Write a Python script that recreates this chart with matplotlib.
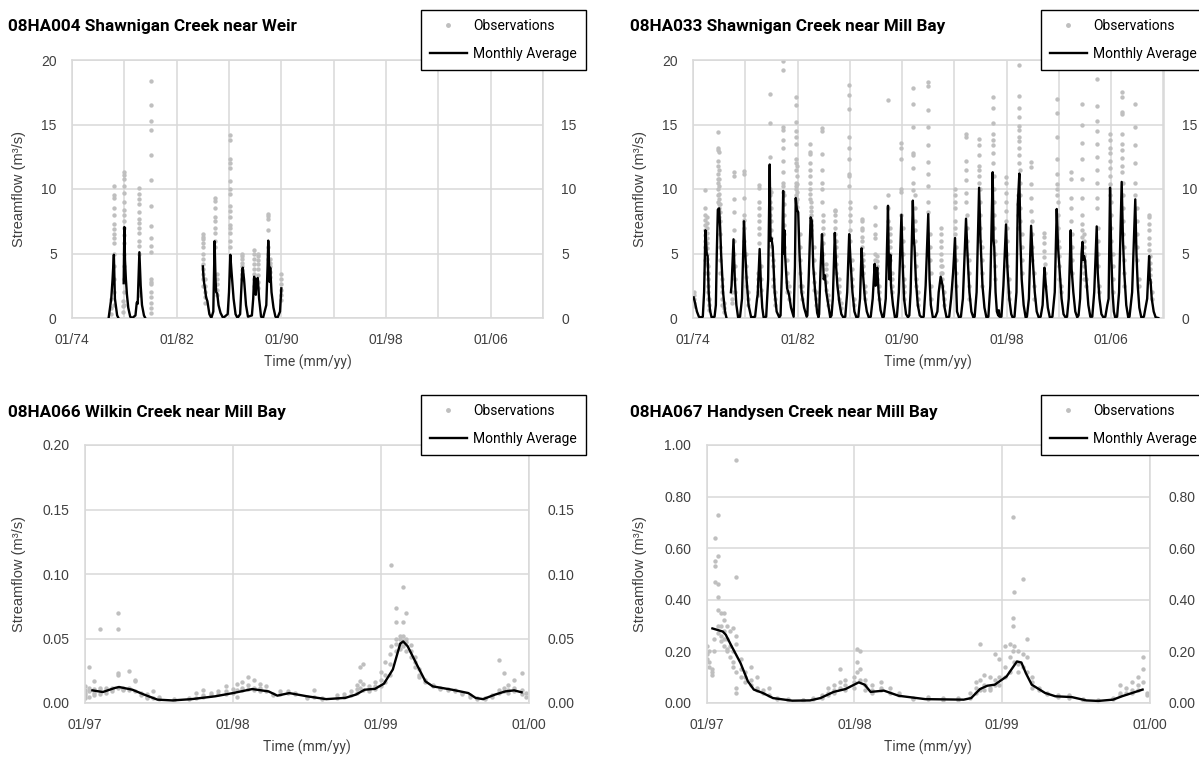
import matplotlib
matplotlib.use("Agg")
import numpy as np
import matplotlib.pyplot as plt
from matplotlib.lines import Line2D
from matplotlib.ticker import FixedLocator, FuncFormatter

W, H = 1199, 758
NARROW = ['Roboto', 'DejaVu Sans']
ARIAL = ['Liberation Sans', 'DejaVu Sans']
GRID = '#d9d9d9'
DOT = '#bfbfbf'

titles = ['08HA004 Shawnigan Creek near Weir', '08HA033 Shawnigan Creek near Mill Bay',
          '08HA066 Wilkin Creek near Mill Bay', '08HA067 Handysen Creek near Mill Bay']

# ---- 08HA004: monthly average (decimal year, m3/s), nan = gap
avg1_t = [1976.8, 1977.0, 1977.1, 1977.2, 1977.28, 1977.45, 1977.55, np.nan,
          1977.95, 1978.0, 1978.05, 1978.12, 1978.2, 1978.3, 1978.45, 1978.6, 1978.85, 1978.95,
          1979.02, 1979.15, 1979.25, 1979.35, 1979.5, 1979.6, np.nan,
          1984.0, 1984.05, 1984.1, 1984.15, 1984.25, 1984.35, 1984.5, 1984.65, 1984.8, 1984.9,
          1984.97, 1985.02, 1985.1, 1985.2, 1985.35, 1985.55, 1985.9, 1986.0, 1986.1, 1986.2,
          1986.35, 1986.5, 1986.65, 1986.85, 1987.0, 1987.05, 1987.15, 1987.3, 1987.45, 1987.75,
          1987.85, 1987.92, 1987.97, 1988.05, 1988.1, 1988.2, 1988.3, 1988.45, 1988.6, 1988.85,
          1988.95, 1989.0, 1989.05, 1989.1, 1989.15, 1989.25, 1989.4, 1989.55, 1989.7, 1989.9, 1990.0]
avg1_q = [0.0, 1.5, 3.0, 4.9, 1.5, 0.2, 0.0, np.nan,
          2.7, 7.05, 4.5, 3.0, 1.8, 0.8, 0.1, 0.0, 0.2, 1.2,
          1.1, 5.1, 2.5, 1.0, 0.2, 0.0, np.nan,
          4.0, 3.2, 2.7, 2.4, 1.6, 1.3, 0.3, 0.0, 0.5, 5.95,
          3.0, 2.0, 1.9, 1.0, 0.4, 0.0, 0.3, 2.0, 4.9, 3.5,
          1.5, 0.3, 0.0, 0.3, 3.5, 3.9, 3.0, 1.0, 0.1, 0.2,
          1.5, 3.2, 3.0, 1.8, 3.0, 3.1, 1.5, 0.1, 0.0, 1.0,
          4.0, 6.0, 4.5, 2.8, 3.9, 2.0, 0.8, 0.1, 0.0, 0.5, 2.3]
obs1 = [(1976.95, [1.5, 0.8, 0.3]),
        (1977.2, [10.2, 9.5, 9.3, 8.5, 8.0, 7.3, 6.9, 6.5, 6.2, 5.8, 5.0, 4.0, 3.0, 2.0, 1.0]),
        (1977.9, [1.3, 0.9, 0.5]),
        (1978.0, [11.3, 11.1, 10.8, 10.2, 9.7, 9.0, 8.4, 8.0, 7.5, 7.0, 6.4, 5.8, 5.0, 4.0, 3.0, 2.0, 1.0]),
        (1979.15, [10.1, 9.6, 9.2, 8.8, 8.2, 7.7, 7.4, 7.0, 6.6, 6.0, 5.6, 5.0, 2.0, 1.8]),
        (1980.0, [18.4, 16.5, 15.3, 14.6, 12.6, 10.7, 8.7, 7.1, 6.2, 5.6, 5.1, 3.0, 2.8, 2.6, 2.0,
                  1.6, 1.2, 0.8, 0.4]),
        (1984.0, [6.5, 6.3, 6.1, 5.8, 5.5, 5.0, 4.6, 4.2, 3.8, 3.4, 3.0, 2.5]),
        (1984.15, [3.0, 2.5, 2.0, 1.6, 1.2]),
        (1984.9, [9.3, 9.1, 8.5, 7.8, 7.5, 7.0, 6.6, 6.0, 5.5]),
        (1985.1, [3.4, 3.0, 2.6, 2.2, 1.8]),
        (1986.05, [14.2, 13.8, 12.3, 12.0, 11.6, 10.6, 10.0, 9.6, 8.7, 8.3, 7.8, 7.2, 7.0, 6.6, 6.0, 5.5]),
        (1987.0, [5.0, 4.8, 4.6, 4.3, 4.0, 3.7, 3.4, 3.0]),
        (1987.9, [5.3, 5.0, 4.6, 4.2, 3.8, 3.4, 3.0, 2.5]),
        (1988.2, [5.0, 4.8, 4.5, 4.2, 3.8, 3.3, 2.8, 2.3]),
        (1989.0, [8.1, 7.9, 7.7, 6.8, 5.5, 5.0, 4.6]),
        (1989.15, [4.6, 4.3, 4.0, 3.6, 3.2]),
        (1990.0, [3.4, 3.0, 2.6, 2.2, 1.8, 1.4])]

# ---- 08HA033: monthly average
avg2_t = [1974.05, 1974.15, 1974.3, 1974.45, 1974.6,
          1974.75, 1974.85, 1974.95, 1975.05, 1975.12, 1975.2, 1975.3, 1975.42,
          1975.65, 1975.75, 1975.82, 1975.9, 1976.0, 1976.08, 1976.15, 1976.3, 1976.45, 1976.55, np.nan,
          1976.9, 1976.95, 1977.1, 1977.2, 1977.32, 1977.45,
          1977.6, 1977.75, 1977.9, 1978.0, 1978.1, 1978.25, 1978.45,
          1978.75, 1978.9, 1978.95, 1979.1, 1979.2, 1979.3, 1979.4,
          1979.6, 1979.75, 1979.87, 1979.93, 1980.0, 1980.1, 1980.25, 1980.4, 1980.6,
          1980.7, 1980.8, 1980.9, 1980.95, 1981.0, 1981.05, 1981.2, 1981.35, 1981.5, 1981.7,
          1981.8, 1981.86, 1981.95, 1982.05, 1982.15, 1982.3, 1982.5, 1982.7,
          1982.75, 1982.85, 1983.0, 1983.1, 1983.2, 1983.35, 1983.5, 1983.6,
          1983.65, 1983.75, 1983.87, 1983.95, 1984.0, 1984.1, 1984.2, 1984.35, 1984.5,
          1984.6, 1984.7, 1984.85, 1984.95, 1985.05, 1985.2, 1985.35, 1985.5,
          1985.65, 1985.8, 1985.95, 1986.05, 1986.2, 1986.35, 1986.5,
          1986.65, 1986.78, 1986.9, 1987.0, 1987.15, 1987.3, 1987.45,
          1987.6, 1987.75, 1987.9, 1987.97, 1988.05, 1988.1, 1988.2, 1988.35, 1988.5,
          1988.6, 1988.75, 1988.92, 1988.97, 1989.02, 1989.1, 1989.15, 1989.3, 1989.45,
          1989.6, 1989.75, 1989.95, 1990.05, 1990.15, 1990.3, 1990.45,
          1990.55, 1990.65, 1990.82, 1990.9, 1990.95, 1991.05, 1991.2, 1991.35, 1991.5,
          1991.65, 1991.8, 1992.0, 1992.1, 1992.2, 1992.35,
          1992.55, 1992.7, 1992.8, 1992.95, 1993.1, 1993.25, 1993.4,
          1993.6, 1993.75, 1993.9, 1994.05, 1994.12, 1994.2, 1994.35,
          1994.5, 1994.65, 1994.89, 1995.0, 1995.15, 1995.3, 1995.45,
          1995.55, 1995.7, 1995.89, 1996.0, 1996.15, 1996.3, 1996.45,
          1996.6, 1996.75, 1996.93, 1997.0, 1997.05, 1997.15, 1997.25, 1997.35, 1997.4, 1997.45,
          1997.6, 1997.75, 1997.95, 1998.05, 1998.2, 1998.35, 1998.45,
          1998.6, 1998.75, 1998.85, 1998.97, 1999.05, 1999.15, 1999.3, 1999.45,
          1999.55, 1999.7, 1999.87, 2000.0, 2000.15, 2000.3, 2000.45,
          2000.6, 2000.75, 2000.89, 2001.0, 2001.15, 2001.3,
          2001.5, 2001.68, 2001.83, 2001.93, 2002.03, 2002.2, 2002.35, 2002.5,
          2002.62, 2002.75, 2002.9, 2002.97, 2003.1, 2003.25, 2003.4,
          2003.5, 2003.62, 2003.73, 2003.8, 2003.85, 2003.92, 2004.0, 2004.1, 2004.25, 2004.4,
          2004.55, 2004.7, 2004.89, 2004.97, 2005.1, 2005.25, 2005.4,
          2005.55, 2005.7, 2005.8, 2005.91, 2006.0, 2006.1, 2006.2, 2006.3,
          2006.45, 2006.6, 2006.8, 2006.9, 2007.0, 2007.15, 2007.3,
          2007.4, 2007.6, 2007.84, 2007.93, 2008.03, 2008.15, 2008.3,
          2008.5, 2008.75, 2008.9, 2008.95, 2009.0, 2009.1, 2009.25, 2009.4, 2009.6]
avg2_q = [1.6, 1.2, 0.5, 0.1, 0.05,
          0.1, 2.0, 6.8, 5.0, 4.8, 2.0, 0.6, 0.05,
          0.1, 1.0, 5.0, 8.4, 8.5, 7.0, 5.0, 2.0, 0.5, 0.05, np.nan,
          2.0, 2.5, 6.1, 3.0, 1.0, 0.05,
          0.1, 1.5, 7.5, 5.0, 3.0, 1.0, 0.05,
          0.1, 1.5, 1.8, 5.35, 2.5, 0.8, 0.05,
          0.1, 3.0, 11.9, 6.0, 6.2, 5.5, 2.0, 0.5, 0.05,
          0.2, 3.5, 9.85, 5.0, 6.8, 4.8, 2.3, 1.8, 0.8, 0.1,
          4.0, 9.3, 8.4, 8.2, 5.0, 2.0, 0.8, 0.1,
          0.2, 3.0, 7.8, 7.5, 4.0, 2.0, 0.4, 0.05,
          0.3, 3.5, 6.5, 4.5, 3.0, 3.3, 2.0, 1.0, 0.05,
          0.2, 1.5, 6.6, 4.0, 2.5, 1.2, 0.3, 0.05,
          0.1, 2.0, 6.5, 4.5, 2.0, 0.5, 0.05,
          0.1, 1.5, 5.4, 3.5, 1.5, 0.5, 0.05,
          0.1, 1.5, 4.2, 2.5, 3.5, 3.9, 2.0, 0.6, 0.05,
          0.1, 1.5, 8.7, 5.0, 3.0, 4.9, 2.5, 1.0, 0.05,
          0.1, 2.0, 8.0, 4.0, 1.5, 0.3, 0.05,
          0.2, 2.0, 9.1, 6.0, 5.5, 3.0, 1.0, 0.2, 0.05,
          0.1, 2.5, 8.05, 3.0, 1.0, 0.05,
          0.1, 0.5, 2.0, 3.2, 2.5, 0.8, 0.05,
          0.1, 1.5, 3.5, 6.2, 3.0, 0.5, 0.05,
          0.1, 1.5, 7.7, 5.0, 2.0, 0.5, 0.05,
          0.1, 2.0, 10.1, 6.0, 2.5, 0.8, 0.05,
          0.1, 2.5, 11.3, 6.0, 5.5, 2.0, 0.5, 0.2, 0.6, 0.1,
          0.1, 2.5, 7.25, 4.0, 1.5, 0.3, 0.05,
          0.1, 2.0, 8.8, 11.2, 6.0, 3.0, 1.0, 0.05,
          0.1, 1.5, 7.15, 4.5, 2.0, 0.5, 0.05,
          0.1, 1.0, 3.9, 2.5, 0.8, 0.05,
          0.1, 2.0, 8.45, 5.5, 4.0, 1.5, 0.3, 0.05,
          0.1, 1.5, 6.8, 3.8, 2.0, 0.5, 0.05,
          0.2, 1.5, 5.0, 5.9, 4.5, 4.8, 4.5, 3.0, 1.0, 0.1,
          0.1, 2.0, 7.1, 3.5, 1.5, 0.3, 0.05,
          0.1, 1.0, 1.5, 10.1, 5.0, 2.0, 0.5, 0.05,
          0.1, 2.0, 10.55, 6.0, 3.5, 1.0, 0.05,
          0.1, 2.0, 9.2, 5.0, 2.5, 0.8, 0.05,
          0.1, 1.5, 4.8, 3.0, 3.0, 1.5, 0.5, 0.05, 0.0]
obs2 = [(1974.05, [2.0, 1.8, 1.5, 1.2, 0.9]),
        (1974.95, [9.9, 8.5, 8.0, 7.6, 7.2, 6.8, 6.4, 6.0]),
        (1975.05, [7.8, 7.4, 7.0, 6.6, 6.2, 5.8, 5.4, 5.0, 4.6, 4.2]),
        (1975.15, [4.0, 3.5, 3.0, 2.5, 2.0, 1.5]),
        (1975.9, [14.4, 13.2, 13.0, 12.2, 11.8, 11.2, 10.8, 10.5, 10.0, 9.5, 9.0]),
        (1975.98, [12.9, 11.5, 10.8, 10.2, 9.6, 9.2, 8.8, 8.5, 8.2, 7.8]),
        (1976.1, [8.8, 8.2, 7.5, 6.5, 5.5, 4.5, 3.5]),
        (1976.25, [3.0, 2.5, 2.0, 1.5, 1.0]),
        (1976.95, [2.0, 1.5, 1.2]),
        (1977.1, [11.3, 11.0, 9.2, 8.2, 6.8, 6.0, 5.0]),
        (1977.9, [11.4, 11.2, 9.3, 8.0, 7.6, 7.0, 6.0]),
        (1978.05, [5.0, 4.0, 3.2, 2.5]),
        (1978.95, [3.5, 3.0, 2.5, 2.0, 1.8]),
        (1979.05, [10.3, 10.1, 9.0, 8.5, 8.0, 7.5, 7.0, 6.5, 5.8]),
        (1979.87, [17.4, 15.1, 12.5, 10.0, 9.5, 9.0, 8.0]),
        (1980.0, [9.8, 8.5, 7.5, 6.8, 6.2, 5.6, 5.0]),
        (1980.15, [4.5, 4.0, 3.0, 2.5]),
        (1980.88, [19.9, 19.2, 14.8, 14.6, 13.8, 13.2, 12.2, 11.3, 10.5, 10.2, 9.8]),
        (1981.0, [9.5, 8.8, 8.0, 7.2, 6.5, 5.5]),
        (1981.2, [4.5, 3.5, 2.8, 2.0]),
        (1981.86, [17.1, 16.5, 15.2, 14.5, 14.0, 13.5, 12.3, 12.0, 11.5, 10.5, 10.2, 10.0, 9.5, 9.0]),
        (1981.95, [11.8, 11.0, 10.4, 9.8, 9.2, 8.6]),
        (1982.15, [6.5, 5.5, 4.5, 3.5, 2.5]),
        (1982.95, [13.5, 12.9, 12.7, 12.0, 11.5, 11.0, 10.5, 10.0, 9.6, 9.2]),
        (1983.05, [9.0, 8.6, 8.3, 8.0, 7.6, 7.2, 6.8]),
        (1983.25, [5.5, 4.5, 3.5, 2.8, 2.2]),
        (1983.85, [14.7, 14.5, 12.7, 11.5, 10.5, 10.0, 9.0]),
        (1983.95, [8.0, 7.5, 7.0, 6.5, 5.8, 5.0]),
        (1984.15, [4.2, 3.8, 3.3, 2.8, 2.2]),
        (1984.85, [8.4, 8.3, 8.0, 7.5, 7.0, 6.5]),
        (1984.95, [6.0, 5.5, 4.8, 4.2, 3.5]),
        (1985.15, [3.0, 2.5, 2.0, 1.5]),
        (1985.93, [18.1, 17.3, 16.2, 14.0, 13.2, 12.3, 11.2, 11.0, 10.2]),
        (1986.02, [9.0, 8.5, 8.0, 7.5, 6.8, 6.0]),
        (1986.15, [4.5, 3.8, 3.0, 2.5]),
        (1986.9, [7.7, 7.5, 7.0, 6.8, 6.3, 6.0, 5.5]),
        (1987.0, [5.0, 4.5, 4.0, 3.5]),
        (1987.9, [8.6, 7.2, 6.5, 6.2, 5.0, 4.5]),
        (1988.05, [4.8, 4.4, 4.0, 3.5, 3.0]),
        (1988.92, [16.9, 9.5, 8.5, 7.5]),
        (1989.05, [7.0, 6.5, 6.0, 5.5, 5.0, 4.5]),
        (1989.95, [13.6, 13.2, 12.3, 10.0, 9.8, 8.0]),
        (1990.05, [7.0, 6.0, 5.0, 4.0]),
        (1990.82, [17.8, 16.6, 14.8, 12.8, 12.6, 11.6, 10.5, 9.9]),
        (1990.95, [9.5, 8.5, 7.5, 6.8, 6.0]),
        (1992.0, [18.3, 18.0, 16.1, 14.8, 13.4, 12.1, 11.2, 10.2, 9.0, 8.2]),
        (1992.1, [6.5, 5.5, 4.5]),
        (1992.95, [6.95, 6.5, 6.0, 5.5, 5.0, 4.5, 4.0, 3.5]),
        (1993.05, [4.0, 3.5, 3.0, 2.5]),
        (1994.05, [10.0, 9.5, 9.0, 8.5, 7.5, 7.0, 6.5]),
        (1994.88, [14.3, 14.0, 12.2, 11.5, 10.7, 9.7, 9.0]),
        (1995.0, [8.0, 7.0, 6.0, 5.0]),
        (1995.88, [13.9, 13.4, 12.6, 11.8, 11.5, 11.0, 10.5]),
        (1995.98, [10.0, 9.0, 8.0, 7.0, 6.0]),
        (1996.93, [17.1, 16.3, 15.1, 14.3, 13.8, 13.4, 12.8, 12.0]),
        (1997.02, [11.0, 10.0, 9.0, 8.0, 7.0]),
        (1997.95, [10.9, 10.5, 9.7, 9.0, 8.3, 7.5]),
        (1998.97, [19.6, 17.2, 16.3, 15.6, 14.9, 14.6, 14.0, 13.7, 13.2, 12.6, 12.0]),
        (1999.05, [11.5, 10.5, 9.5, 8.5, 7.5]),
        (1999.87, [12.1, 11.7, 10.4, 9.3, 8.3]),
        (2000.88, [6.6, 6.3, 5.8, 5.2, 4.7]),
        (2001.83, [17.0, 15.9, 14.0, 12.3, 11.2, 10.4, 10.0, 9.5]),
        (2001.93, [9.0, 8.0, 7.0, 6.0]),
        (2002.9, [11.3, 10.8, 9.3, 8.5, 7.5]),
        (2003.8, [16.6, 15.0, 13.6, 12.3, 10.8, 9.3, 8.0, 7.3, 6.8, 6.3]),
        (2003.9, [6.5, 6.0, 5.5, 5.0]),
        (2004.89, [18.5, 16.4, 15.3, 14.5, 13.5, 12.5, 11.5, 10.5, 9.3, 8.5]),
        (2005.91, [14.3, 13.8, 13.2, 12.8, 12.2, 11.6, 11.0, 10.4, 9.5]),
        (2006.0, [9.0, 8.0, 7.0, 6.0]),
        (2006.8, [17.5, 17.1, 16.0, 15.8, 14.3, 13.5, 13.0, 12.4, 11.8, 11.3]),
        (2006.9, [10.5, 9.5, 8.5, 7.5, 6.5]),
        (2007.84, [16.6, 14.8, 13.4, 12.0, 10.5, 9.5]),
        (2008.9, [8.0, 7.8, 7.3, 6.8, 6.2, 5.7, 5.3]),
        # lower observations on the recession limbs
        (1974.9, [5.5, 4.5, 3.5]), (1975.25, [1.5, 1.0, 0.6]), (1976.4, [1.2, 0.8, 0.5]),
        (1977.2, [4.0, 3.0, 2.0]), (1978.2, [2.0, 1.5, 1.0]), (1979.2, [4.0, 3.0, 2.2]),
        (1980.3, [2.0, 1.5, 1.0]), (1981.35, [2.5, 2.0, 1.5]), (1982.35, [2.5, 2.0, 1.5]),
        (1983.4, [2.0, 1.5, 1.0]), (1984.3, [1.8, 1.4, 1.0]), (1985.3, [1.2, 0.8]),
        (1986.3, [1.5, 1.0]), (1987.15, [2.5, 2.0, 1.5]), (1988.2, [2.5, 2.0, 1.5]),
        (1989.2, [3.5, 3.0, 2.5, 2.0]), (1990.15, [3.0, 2.5, 2.0, 1.5]),
        (1991.05, [5.0, 4.0, 3.0, 2.5]), (1991.2, [2.0, 1.5, 1.0]), (1992.2, [3.5, 2.5, 1.5]),
        (1993.2, [2.0, 1.5, 1.0]), (1994.15, [5.5, 4.5, 3.5, 2.5]), (1995.12, [4.5, 3.5, 2.5, 1.5]),
        (1996.1, [5.5, 4.5, 3.5, 2.5]), (1997.12, [6.0, 5.0, 4.0, 3.0]),
        (1998.05, [7.0, 6.0, 5.0, 4.0]), (1998.2, [3.0, 2.0, 1.5]), (1998.85, [9.5, 8.8, 8.0, 7.0]),
        (1999.15, [6.5, 5.5, 4.5, 3.5]), (1999.95, [7.5, 6.5, 5.5, 4.5]), (2000.1, [3.5, 2.5, 1.5]),
        (2000.95, [4.2, 3.5, 2.5]), (2002.0, [5.5, 4.8, 4.0, 3.0]), (2002.15, [2.5, 2.0]),
        (2003.0, [6.5, 5.5, 4.5, 3.5]), (2003.95, [4.8, 4.4, 4.0, 3.5, 3.0]), (2004.1, [3.0, 2.5]),
        (2004.97, [7.0, 6.0, 5.0, 4.0]), (2005.1, [2.5, 2.0]), (2006.1, [5.0, 4.0, 3.0, 2.0]),
        (2007.0, [5.5, 4.5, 3.5, 2.5]), (2007.95, [8.5, 7.5, 6.5, 5.5, 4.5]), (2008.1, [3.0, 2.5]),
        (2008.97, [4.8, 4.3, 3.8, 3.3, 2.8]), (2009.1, [2.0, 1.5])]

# ---- 08HA066
avg3_t = [1997.05, 1997.12, 1997.2, 1997.23, 1997.32, 1997.4, 1997.49, 1997.59, 1997.72, 1997.88,
          1998.0, 1998.13, 1998.24, 1998.3, 1998.38, 1998.5, 1998.63, 1998.76, 1998.83, 1998.89,
          1998.96, 1999.02, 1999.08, 1999.13, 1999.15, 1999.18, 1999.25, 1999.3, 1999.35, 1999.48,
          1999.59, 1999.64, 1999.69, 1999.77, 1999.84, 1999.9, 1999.95]
avg3_q = [0.0098, 0.0085, 0.0116, 0.0124, 0.0103, 0.0065, 0.0026, 0.002, 0.003, 0.0052,
          0.0077, 0.0108, 0.009, 0.0057, 0.0077, 0.0052, 0.003, 0.004, 0.0065, 0.0103,
          0.011, 0.015, 0.026, 0.046, 0.0477, 0.044, 0.028, 0.0168, 0.0129, 0.0103,
          0.0077, 0.0039, 0.003, 0.0065, 0.009, 0.0098, 0.0083]
obs3 = [(1997.0, [0.013, 0.010, 0.008, 0.006, 0.004]), (1997.03, [0.028, 0.012, 0.009, 0.005]),
        (1997.06, [0.017, 0.011, 0.008, 0.006]), (1997.1, [0.057, 0.012, 0.010, 0.007]),
        (1997.14, [0.012, 0.010, 0.008]), (1997.18, [0.012, 0.011, 0.009]),
        (1997.22, [0.070, 0.057, 0.023, 0.022, 0.012]), (1997.26, [0.012, 0.011, 0.010]),
        (1997.3, [0.025, 0.012, 0.010]), (1997.34, [0.018, 0.017, 0.009]),
        (1997.38, [0.008, 0.006]), (1997.42, [0.007, 0.005, 0.004]), (1997.46, [0.009, 0.004]),
        (1997.5, [0.005, 0.003]), (1997.6, [0.003, 0.002]), (1997.7, [0.004, 0.003]),
        (1997.75, [0.008, 0.004]), (1997.8, [0.010, 0.006, 0.005]), (1997.85, [0.008, 0.006]),
        (1997.9, [0.009, 0.007]), (1997.95, [0.013, 0.009, 0.007]), (1998.0, [0.011, 0.008]),
        (1998.03, [0.015, 0.010, 0.005]), (1998.06, [0.016, 0.012, 0.010]),
        (1998.1, [0.020, 0.014, 0.011]), (1998.14, [0.018, 0.012, 0.010]),
        (1998.18, [0.015, 0.012, 0.009]), (1998.22, [0.013, 0.009]), (1998.27, [0.007, 0.006]),
        (1998.32, [0.009, 0.007]), (1998.37, [0.009, 0.008]), (1998.42, [0.008, 0.007]),
        (1998.5, [0.005, 0.004]), (1998.55, [0.010, 0.005]), (1998.6, [0.004, 0.003]),
        (1998.7, [0.006, 0.004]), (1998.75, [0.007, 0.005]), (1998.8, [0.009, 0.006]),
        (1998.84, [0.014, 0.011, 0.008]), (1998.86, [0.028, 0.017, 0.012]),
        (1998.88, [0.030, 0.015, 0.010]), (1998.92, [0.013, 0.011, 0.009]),
        (1998.96, [0.016, 0.013, 0.011]), (1999.0, [0.024, 0.018, 0.013]),
        (1999.03, [0.032, 0.022, 0.016]), (1999.06, [0.038, 0.030, 0.022]),
        (1999.07, [0.107, 0.044]), (1999.1, [0.074, 0.063, 0.050, 0.046, 0.040]),
        (1999.13, [0.052, 0.050, 0.046, 0.042]), (1999.15, [0.090, 0.063, 0.052, 0.048, 0.044]),
        (1999.17, [0.070, 0.050, 0.047, 0.040]), (1999.2, [0.045, 0.040, 0.036]),
        (1999.23, [0.036, 0.032, 0.028]), (1999.26, [0.026, 0.022, 0.020]),
        (1999.3, [0.018, 0.016]), (1999.35, [0.014, 0.013]), (1999.4, [0.012, 0.011]),
        (1999.45, [0.011, 0.010]), (1999.5, [0.010, 0.009]), (1999.55, [0.008, 0.007]),
        (1999.6, [0.006, 0.005]), (1999.65, [0.004, 0.003]), (1999.7, [0.004, 0.003]),
        (1999.75, [0.006, 0.005]), (1999.8, [0.033, 0.010, 0.008]), (1999.83, [0.023, 0.012, 0.009]),
        (1999.86, [0.014, 0.010, 0.008]), (1999.9, [0.018, 0.012, 0.009]),
        (1999.95, [0.023, 0.010, 0.007]), (1999.98, [0.008, 0.005])]

# ---- 08HA067
avg4_t = [1997.04, 1997.11, 1997.13, 1997.17, 1997.23, 1997.28, 1997.32, 1997.38, 1997.45, 1997.58,
          1997.7, 1997.77, 1997.86, 1997.94, 1998.03, 1998.07, 1998.11, 1998.2, 1998.3, 1998.48,
          1998.74, 1998.79, 1998.85, 1998.9, 1998.95, 1999.03, 1999.1, 1999.13, 1999.16, 1999.2,
          1999.29, 1999.36, 1999.47, 1999.57, 1999.65, 1999.75, 1999.81, 1999.95]
avg4_q = [0.289, 0.277, 0.265, 0.22, 0.155, 0.084, 0.052, 0.039, 0.019, 0.009,
          0.01, 0.019, 0.043, 0.054, 0.08, 0.071, 0.043, 0.048, 0.028, 0.015,
          0.013, 0.019, 0.054, 0.067, 0.071, 0.103, 0.161, 0.157, 0.116, 0.071,
          0.039, 0.026, 0.023, 0.01, 0.008, 0.013, 0.026, 0.052]
obs4 = [(1997.0, [0.22, 0.19, 0.17]), (1997.02, [0.20, 0.16, 0.14]), (1997.04, [0.13, 0.12, 0.11]),
        (1997.05, [0.25, 0.20]), (1997.06, [0.64, 0.55, 0.53, 0.47]),
        (1997.08, [0.73, 0.57, 0.46, 0.41, 0.36, 0.30, 0.27]), (1997.1, [0.35, 0.30, 0.26, 0.24]),
        (1997.12, [0.35, 0.32, 0.28, 0.25, 0.22]), (1997.14, [0.30, 0.25, 0.21, 0.20]),
        (1997.16, [0.28, 0.22, 0.18]), (1997.18, [0.29, 0.20, 0.16, 0.14]),
        (1997.2, [0.94, 0.49, 0.26, 0.23, 0.12, 0.06, 0.04]), (1997.23, [0.17, 0.13, 0.10]),
        (1997.26, [0.12, 0.10, 0.08]), (1997.3, [0.14, 0.09, 0.07]), (1997.34, [0.10, 0.06, 0.05]),
        (1997.38, [0.05, 0.04]), (1997.42, [0.06, 0.03]), (1997.48, [0.02, 0.015]),
        (1997.55, [0.015, 0.01]), (1997.65, [0.012, 0.01]), (1997.72, [0.02, 0.015]),
        (1997.78, [0.03, 0.02]), (1997.82, [0.06, 0.04, 0.03]), (1997.86, [0.07, 0.05, 0.04]),
        (1997.9, [0.13, 0.08, 0.06]), (1997.94, [0.09, 0.07, 0.05]), (1998.0, [0.10, 0.08, 0.06]),
        (1998.02, [0.21, 0.16, 0.12]), (1998.04, [0.20, 0.13, 0.09]), (1998.07, [0.09, 0.07, 0.05]),
        (1998.12, [0.07, 0.05, 0.04]), (1998.18, [0.08, 0.06, 0.05]), (1998.24, [0.06, 0.04]),
        (1998.3, [0.04, 0.03]), (1998.4, [0.02, 0.015]), (1998.5, [0.025, 0.015]),
        (1998.6, [0.02, 0.01]), (1998.7, [0.02, 0.01]), (1998.78, [0.04, 0.02]),
        (1998.82, [0.08, 0.06, 0.04]), (1998.85, [0.23, 0.09, 0.05]), (1998.88, [0.11, 0.07, 0.05]),
        (1998.92, [0.10, 0.06, 0.05]), (1998.95, [0.19, 0.09, 0.07]), (1998.98, [0.17, 0.10, 0.07]),
        (1999.02, [0.22, 0.14, 0.10]), (1999.05, [0.23, 0.18, 0.12]),
        (1999.07, [0.72, 0.33, 0.30, 0.20]), (1999.08, [0.43, 0.22, 0.16]),
        (1999.11, [0.20, 0.15, 0.12]), (1999.14, [0.48, 0.19, 0.14]), (1999.17, [0.25, 0.18, 0.12]),
        (1999.2, [0.10, 0.08, 0.06]), (1999.25, [0.06, 0.05]), (1999.3, [0.04, 0.035]),
        (1999.38, [0.03, 0.025]), (1999.45, [0.03, 0.02]), (1999.55, [0.015, 0.01]),
        (1999.65, [0.012, 0.008]), (1999.75, [0.02, 0.015]), (1999.8, [0.07, 0.04, 0.03]),
        (1999.84, [0.06, 0.04]), (1999.88, [0.08, 0.05, 0.04]), (1999.92, [0.10, 0.07, 0.05]),
        (1999.95, [0.18, 0.13, 0.08]), (1999.98, [0.04, 0.03])]


fig = plt.figure(figsize=(W / 100, H / 100), dpi=100)


def panel(box, title, obs, avg_t, avg_q, xlim, xmajor, xminor, ylim, ystep, yfmt,
          legend_x, title_x, ylabel_x):
    l, t, r, b = box
    ax = fig.add_axes([l / W, 1 - b / H, (r - l) / W, (b - t) / H])
    xs = [c[0] for c in obs for v in c[1]]
    ys = [v for c in obs for v in c[1]]
    ax.scatter(xs, ys, s=10, color=DOT, linewidths=0, zorder=2)
    ax.plot(avg_t, avg_q, color='black', lw=1.7, zorder=3)
    ax.set_xlim(xlim)
    ax.set_ylim(ylim)
    ax.xaxis.set_major_locator(FixedLocator(xmajor))
    ax.xaxis.set_minor_locator(FixedLocator(xminor))
    ax.xaxis.set_major_formatter(FuncFormatter(lambda v, p: '01/%02d' % (int(round(v)) % 100)))
    yt = np.arange(ylim[0], ylim[1] + ystep / 2, ystep)
    ax.set_yticks(yt)
    ax.yaxis.set_major_formatter(FuncFormatter(lambda v, p: yfmt % v))
    ax.grid(True, which='both', color=GRID, lw=1.1, zorder=0)
    ax.set_axisbelow(True)
    for s in ax.spines.values():
        s.set_color(GRID)
        s.set_linewidth(1.1)
    ax.tick_params(which='both', length=0, labelsize=10, colors='#404040')
    ax.tick_params(axis='x', pad=11)
    ax.tick_params(axis='y', pad=11)
    for lab in ax.get_xticklabels() + ax.get_yticklabels():
        lab.set_family(ARIAL)
    ax.set_ylabel('Streamflow (m³/s)', family=ARIAL, fontsize=10.5, color='#404040')
    ax.yaxis.set_label_coords(-(l - ylabel_x - 7) / (r - l), 0.5)

    # secondary axis on the right (top label sits under the legend)
    ax2 = ax.twinx()
    ax2.set_ylim(ylim)
    ax2.set_yticks(yt[:-1])
    ax2.yaxis.set_major_formatter(FuncFormatter(lambda v, p: yfmt % v))
    ax2.tick_params(length=0, labelsize=10, colors='#404040', pad=13)
    for lab in ax2.get_yticklabels():
        lab.set_family(ARIAL)
    for s in ax2.spines.values():
        s.set_visible(False)

    fig.text(title_x / W, 1 - (t - 33) / H, title, fontsize=12.3, fontweight='bold', family=NARROW,
             ha='left', va='center')
    fig.text((l + r) / 2 / W, 1 - (b + 44) / H, 'Time (mm/yy)', fontsize=10, family=NARROW,
             ha='center', va='center', color='#404040')
    handles = [Line2D([], [], ls='none', marker='o', ms=2.5, color=DOT),
               Line2D([], [], color='black', lw=1.7)]
    fig.legend(handles, ['Observations', 'Monthly Average'], loc='upper left',
               bbox_to_anchor=(legend_x / W, 1 - (t - 50) / H), fancybox=False, framealpha=1,
               edgecolor='black', borderaxespad=0, prop={'family': NARROW, 'size': 10},
               handlelength=2.7, handletextpad=0.45, labelspacing=1.05, borderpad=0.62)
    return ax


years_major = [1974, 1982, 1990, 1998, 2006]
years_minor = [1978, 1986, 1994, 2002, 2010]
panel((72, 60, 543, 318), titles[0], obs1, avg1_t, avg1_q, (1974, 2010), years_major, years_minor,
      (0, 20), 5, '%d', 421, 8, 19)
panel((693, 60, 1163.5, 318), titles[1], obs2, avg2_t, avg2_q, (1974, 2010), years_major, years_minor,
      (0, 20), 5, '%d', 1041, 630, 640)
panel((85, 445, 529, 703), titles[2], obs3, avg3_t, avg3_q, (1997, 2000), [1997, 1998, 1999, 2000], [],
      (0, 0.2), 0.05, '%.2f', 421, 8, 19)
panel((706.5, 445, 1150, 703), titles[3], obs4, avg4_t, avg4_q, (1997, 2000), [1997, 1998, 1999, 2000], [],
      (0, 1.0), 0.2, '%.2f', 1041, 630, 640)

fig.savefig('out.png', dpi=100)
